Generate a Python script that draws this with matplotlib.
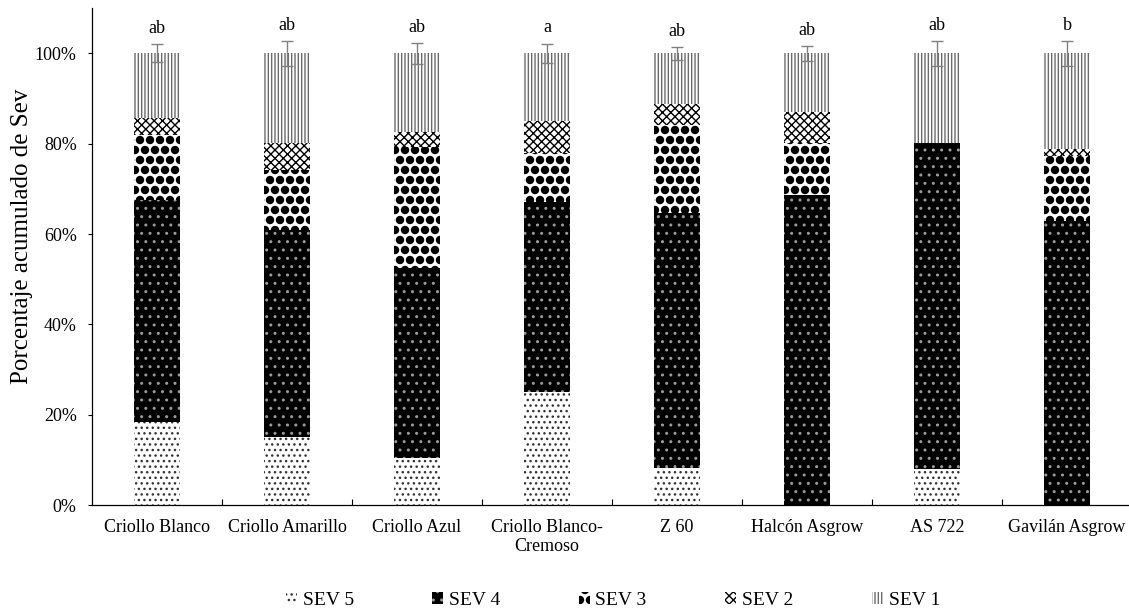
import matplotlib
matplotlib.use("Agg")
import matplotlib.pyplot as plt
from matplotlib import hatch as mhatch
from matplotlib.ticker import PercentFormatter
import numpy as np

categories = ["Criollo Blanco", "Criollo Amarillo", "Criollo Azul",
              "Criollo Blanco-\nCremoso", "Z 60", "Halcón Asgrow",
              "AS 722", "Gavilán Asgrow"]
sev5 = [18.4, 15.1, 10.3, 25.1, 8.2, 0.0, 8.0, 0.0]
sev4 = [49.1, 45.9, 42.1, 42.0, 56.4, 68.6, 72.2, 63.0]
sev3 = [14.4, 13.1, 26.9, 10.9, 19.5, 11.6, 0.0, 14.2]
sev2 = [3.9, 6.1, 3.4, 7.0, 4.6, 6.8, 0.0, 1.7]
sev1 = [14.2, 19.8, 17.3, 15.0, 11.3, 13.0, 19.8, 21.1]
error = [2.0, 2.7, 2.3, 2.2, 1.5, 1.6, 2.8, 2.7]
letters = ["ab", "ab", "ab", "a", "ab", "ab", "ab", "b"]
series_names = ["SEV 5", "SEV 4", "SEV 3", "SEV 2", "SEV 1"]


# big filled dots for the 'O' hatch (stock 'O' only draws rings)
class BigDots(mhatch.Circles):
    size = 0.35
    filled = True

    def __init__(self, hatch, density):
        # row count has to stay even for the Shapes bookkeeping
        self.num_rows = hatch.count('O') * 10
        super().__init__(hatch, density)


mhatch._hatch_types = [BigDots if t is mhatch.LargeCircles else t
                       for t in mhatch._hatch_types]

plt.rcParams['font.family'] = ['Liberation Serif', 'DejaVu Serif']
plt.rcParams['hatch.linewidth'] = 1.0

# face, hatch colour, hatch
styles = [
    ("white", "#333333", "..."),
    ("black", "#9a9a9a", ".."),
    ("white", "black", "O"),
    ("white", "black", "xxxx"),
    ("white", "#6a6a6a", "|||||"),
]

fig = plt.figure(figsize=(11.29, 6.15), dpi=100)
ax = fig.add_axes([92 / 1129, 110 / 615, 1040 / 1129, 496.7 / 615])

x = np.arange(len(categories))
bottom = np.zeros(len(categories))
for vals, name, (fc, hc, h) in zip([sev5, sev4, sev3, sev2, sev1], series_names, styles):
    vals = np.array(vals)
    ax.bar(x, vals, 0.35, bottom=bottom, color=fc, edgecolor=hc, hatch=h,
           linewidth=0, label=name, zorder=2)
    bottom += vals

ax.errorbar(x, bottom, yerr=error, fmt='none', ecolor='#808080',
            elinewidth=1, capsize=4, capthick=1, zorder=3)
# significance letters sit just above each error cap
for xi, top, e, lt in zip(x, bottom, error, letters):
    ax.annotate(lt, (xi, top + e), xytext=(0, 8), textcoords='offset points',
                ha='center', va='baseline', fontsize=13)

ax.set_xlim(-0.5, len(categories) - 0.5)
ax.set_ylim(0, 110)
ax.set_yticks(np.arange(0, 101, 20))
ax.yaxis.set_major_formatter(PercentFormatter(xmax=100, decimals=0))
ax.set_xticks(x)
ax.set_xticklabels(categories)
ax.set_xticks(np.arange(0.5, len(categories) - 0.5, 1), minor=True)
ax.tick_params(axis='x', which='major', length=0, pad=10, labelsize=13)
ax.tick_params(axis='x', which='minor', direction='in', length=4, width=0.8)
ax.tick_params(axis='y', direction='out', length=3, width=0.8, pad=8, labelsize=13)

for side in ('top', 'right'):
    ax.spines[side].set_visible(False)
for side in ('left', 'bottom'):
    ax.spines[side].set_linewidth(0.9)

ax.set_ylabel("Porcentaje acumulado de Sev", fontsize=18)
ax.yaxis.set_label_coords(-0.057, 0.54)

fig.legend(loc='center', bbox_to_anchor=(0.543, 0.024), ncol=5, frameon=False,
           fontsize=14, handlelength=0.55, handleheight=0.55,
           handletextpad=0.3, columnspacing=4.05)

fig.savefig("out.png", dpi=100)
